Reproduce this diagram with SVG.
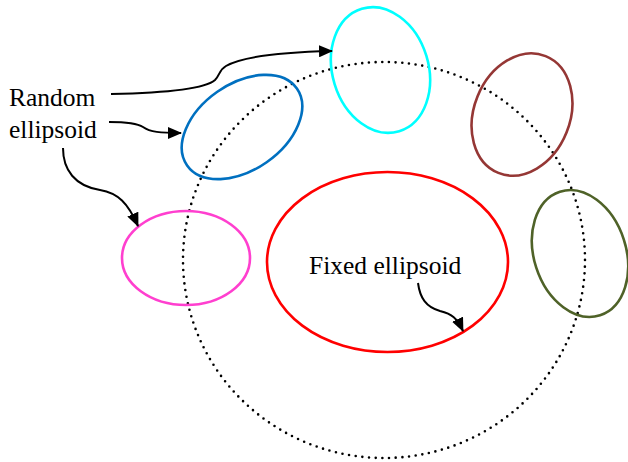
<svg xmlns="http://www.w3.org/2000/svg" width="628" height="462" viewBox="0 0 628 462">
  <style>
    .shape { fill: none; stroke-width: 2.6; }
    .label { font-family: "Liberation Serif", "Times New Roman", serif; font-size: 25.5px; fill: #000; }
    .link { fill: none; stroke: #000; stroke-width: 2; }
  </style>
  <defs>
    <marker id="arrow" viewBox="0 0 14 12" refX="13" refY="6" markerWidth="14" markerHeight="12" markerUnits="userSpaceOnUse" orient="auto">
      <path d="M0,0 L14,6 L0,12 Z" fill="#000"/>
    </marker>
  </defs>
  <rect width="628" height="462" fill="#fff"/>

  <!-- boundary region -->
  <g id="boundary">
    <ellipse cx="384" cy="260" rx="201" ry="198" fill="none" stroke="#000" stroke-width="2.6" stroke-dasharray="0 6.7" stroke-linecap="round"/>
  </g>

  <g id="fixed-ellipsoid">
    <ellipse class="shape" cx="387.5" cy="262" rx="120.5" ry="90" stroke="#ff0000"/>
    <text class="label" x="309" y="274">Fixed ellipsoid</text>
  </g>

  <g id="ellipsoid-pink">
    <ellipse class="shape" cx="186" cy="258" rx="64" ry="47" stroke="#ff3fcf"/>
  </g>

  <g id="ellipsoid-blue">
    <ellipse class="shape" cx="242" cy="127" rx="67" ry="43" transform="rotate(-35 242 127)" stroke="#0070c0"/>
  </g>

  <g id="ellipsoid-cyan">
    <ellipse class="shape" cx="380.5" cy="70" rx="48" ry="64" transform="rotate(-17 380.5 70)" stroke="#00ffff"/>
  </g>

  <g id="ellipsoid-brown">
    <ellipse class="shape" cx="522" cy="114.5" rx="48" ry="63" transform="rotate(22 522 114.5)" stroke="#953735"/>
  </g>

  <g id="ellipsoid-olive">
    <ellipse class="shape" cx="580" cy="253.5" rx="46" ry="65" transform="rotate(-18 580 253.5)" stroke="#4f6228"/>
  </g>

  <g id="random-label">
    <text class="label" x="9" y="106">Random</text>
    <text class="label" x="9" y="138">ellipsoid</text>
  </g>

  <g id="connectors">
    <path class="link" d="M111,94 C160,93 205,89 215,80 C220,75 219,70 226,66 C245,55 290,52 332,51" marker-end="url(#arrow)"/>
    <path class="link" d="M109,122 C125,122 137,123 143,127 C150,132 160,133 181,133" marker-end="url(#arrow)"/>
    <path class="link" d="M63,148 C63,170 75,186 100,190 C118,193 128,203 138,226" marker-end="url(#arrow)"/>
    <path class="link" d="M418,283 C420,298 426,307 440,311 C452,314 457,318 463,331" marker-end="url(#arrow)"/>
  </g>
</svg>
